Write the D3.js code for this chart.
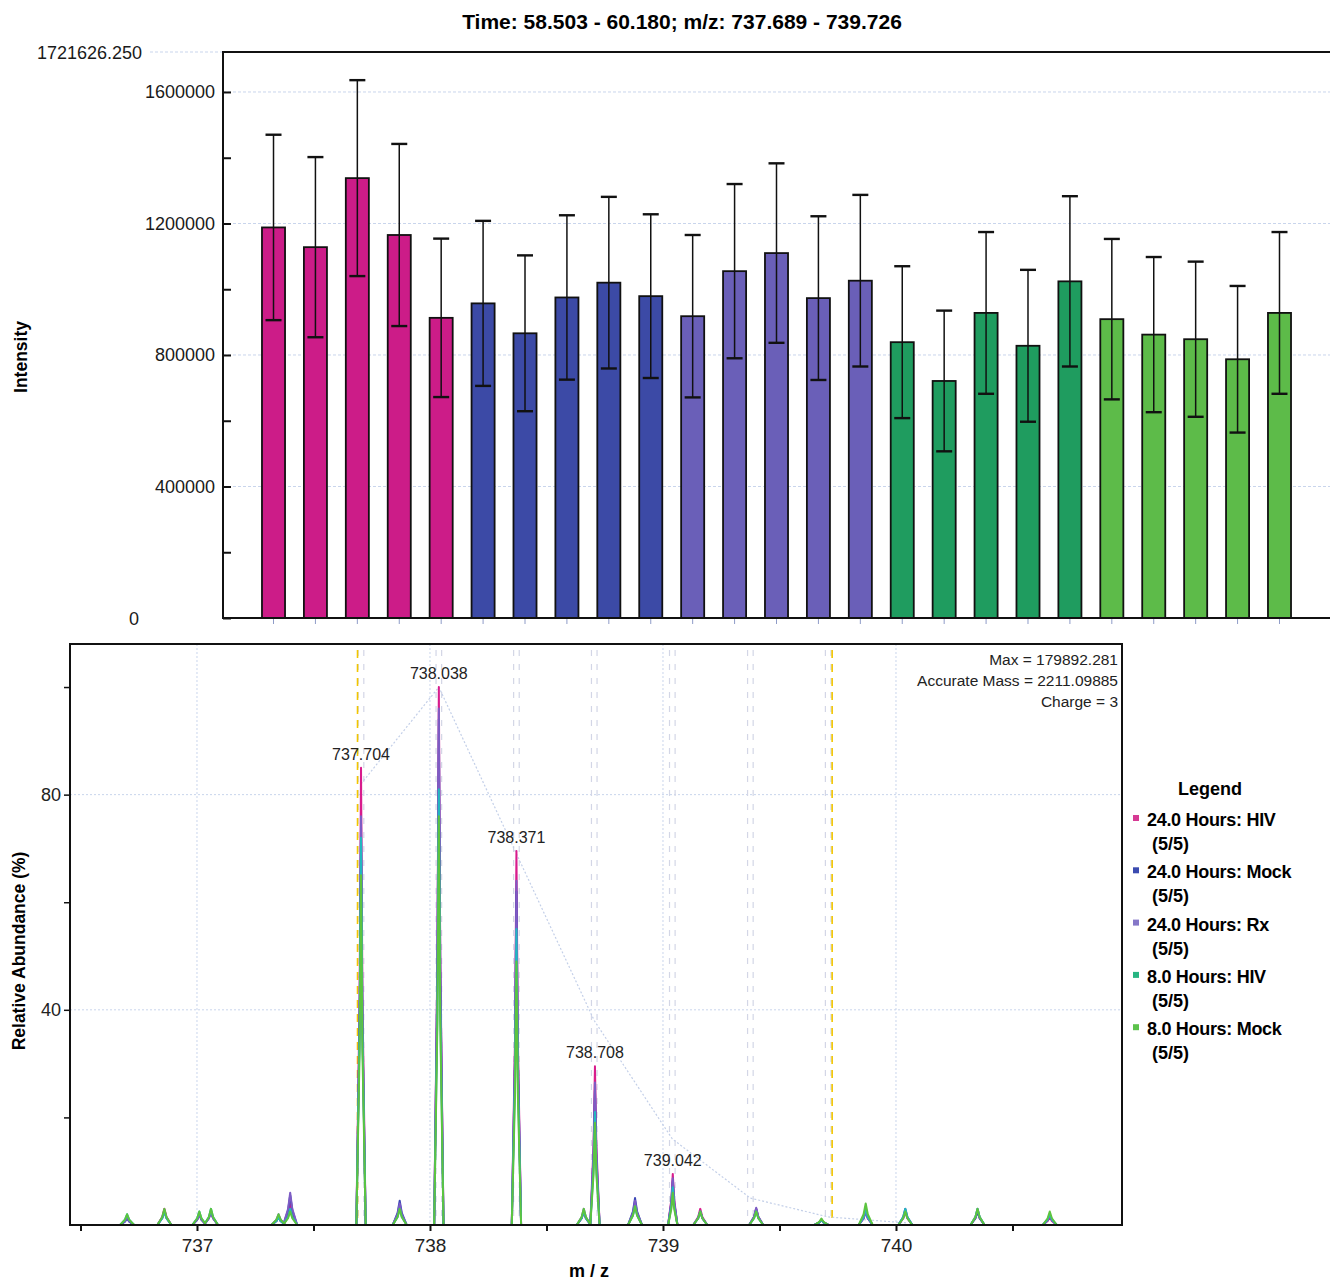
<!DOCTYPE html>
<html>
<head>
<meta charset="utf-8">
<script src="https://cdnjs.cloudflare.com/ajax/libs/d3/7.8.5/d3.min.js"></script>
<style>
  body { margin: 0; background: #fff; }
  svg { display: block; font-family: "Liberation Sans", Arial, sans-serif; }
</style>
</head>
<body>
<svg id="chart" width="1330" height="1281"></svg>
<script>
// ---- data: top bar chart ----
const groups = ["24.0 Hours: HIV", "24.0 Hours: Mock", "24.0 Hours: Rx", "8.0 Hours: HIV", "8.0 Hours: Mock"];
const barColors = ["#cc1c88", "#3c4aa6", "#6a5fb8", "#1f9c5f", "#5dbb49"];
const replicates = 5;
const barMeans = [1188000, 1128000, 1338000, 1165000, 913000,
                  957000, 866000, 975000, 1020000, 979000,
                  918000, 1055000, 1110000, 973000, 1026000,
                  839000, 721000, 928000, 828000, 1024000,
                  909000, 862000, 848000, 787000, 928000];
const barErrors = [282000, 274000, 298000, 277000, 241000,
                   251000, 237000, 250000, 261000, 249000,
                   247000, 265000, 273000, 249000, 261000,
                   231000, 214000, 246000, 231000, 259000,
                   244000, 236000, 236000, 223000, 246000];
const intensityMax = 1721626.25;
const intensityTicks = [0, 200000, 400000, 600000, 800000, 1000000, 1200000, 1400000, 1600000];
const intensityLabels = [0, 400000, 800000, 1200000, 1600000];

// ---- data: bottom spectrum ----
const seriesNames = ["24.0 Hours: HIV", "24.0 Hours: Mock", "24.0 Hours: Rx", "8.0 Hours: HIV", "8.0 Hours: Mock"];
const lineColors = ["#d81b8c", "#3a45b5", "#7d5cc4", "#22b8c0", "#5cc43f"];
const legendColors = ["#d63a94", "#3b4bb0", "#8577c8", "#27b582", "#5cc24c"];
const peakMz = [737.704, 738.038, 738.371, 738.708, 739.042];
const peakHIV24 = [85, 100, 69.5, 29.5, 9.5];
const peakMock24 = [74, 94, 62, 25, 8.2];
const peakRx24 = [76, 96, 64, 26.5, 8.7];
const peakHIV8 = [72, 81, 55, 21, 7];
const peakMock8 = [65, 76, 49, 19, 6];
const noiseMz = [736.70, 736.86, 737.01, 737.06, 737.35, 737.40, 737.87, 738.66, 738.88, 739.16, 739.40, 739.68, 739.87, 740.04, 740.35, 740.66];
const noiseHIV24 = [1.5, 3, 2, 2.5, 1.5, 4, 3.5, 2.5, 4, 3, 3, 1, 2.5, 2.5, 2.5, 1.5];
const noiseMock24 = [1.2, 2.5, 2, 2.5, 1.5, 5.5, 4.5, 2.5, 5, 2.5, 3, 1, 2.5, 3, 2.5, 2];
const noiseRx24 = [1.5, 2.8, 2, 2.5, 2, 6, 4, 3, 4.5, 2.5, 3.2, 1, 2.5, 2.5, 3, 1.8];
const noiseHIV8 = [2, 2.5, 2.5, 3, 1.5, 3, 3, 2.5, 3.5, 2.5, 2.5, 1, 3, 3, 3, 2];
const noiseMock8 = [2, 3, 2.5, 3, 2, 2.5, 3, 3, 3.5, 2.5, 2.5, 1.2, 4, 2.5, 3, 2.5];
const envelopeMz = [737.704, 738.038, 738.371, 738.705, 739.040, 739.375, 739.709, 740.043];
const envelopePct = [82, 100, 69, 38, 16, 5, 1.5, 0.4];
const isotopeWindows = [737.704, 738.038, 738.371, 738.705, 739.040, 739.375, 739.709];
const rangeMarks = [737.689, 739.726];
const mzTicks = [736.5, 737, 737.5, 738, 738.5, 739, 739.5, 740, 740.5];
const mzLabels = [737, 738, 739, 740];
const abundanceTicks = [20, 40, 60, 80, 100];
const abundanceLabels = [40, 80];
const infoLines = ["Max = 179892.281", "Accurate Mass = 2211.09885", "Charge = 3"];
const titleText = "Time: 58.503 - 60.180; m/z: 737.689 - 739.726";

const svg = d3.select("#chart");
const gridColor = "#c9d5ec";

// ================= TOP: bar chart =================
const barBox = { left: 223, right: 1330, top: 52, bottom: 618 };

let bars = barMeans.map((m, i) => ({
  id: i,
  group: groups[Math.floor(i / replicates)],
  color: barColors[Math.floor(i / replicates)],
  mean: m,
  err: barErrors[i]
}));

let x = d3.scaleBand()
  .domain(bars.map(d => d.id))
  .range([barBox.left, barBox.right])
  .paddingInner(0.45)
  .paddingOuter(0.93);

let y = d3.scaleLinear().domain([0, intensityMax]).range([barBox.bottom, barBox.top]);

svg.append("text")
  .attr("x", 682).attr("y", 29)
  .attr("text-anchor", "middle")
  .attr("font-size", 21).attr("font-weight", "bold")
  .text(titleText);

// gridlines
svg.append("g")
  .selectAll("line")
  .data(intensityLabels.filter(d => d > 0))
  .enter().append("line")
  .attr("x1", barBox.left).attr("x2", barBox.right)
  .attr("y1", d => y(d)).attr("y2", d => y(d))
  .attr("stroke", gridColor).attr("stroke-dasharray", "3,2");

svg.append("line")
  .attr("x1", 150).attr("x2", barBox.left)
  .attr("y1", y(intensityMax)).attr("y2", y(intensityMax))
  .attr("stroke", gridColor).attr("stroke-dasharray", "3,2");

// bars
svg.append("g")
  .selectAll("rect")
  .data(bars)
  .enter().append("rect")
  .attr("x", d => x(d.id))
  .attr("y", d => y(d.mean))
  .attr("width", x.bandwidth())
  .attr("height", d => y(0) - y(d.mean))
  .attr("fill", d => d.color)
  .attr("stroke", "#111")
  .attr("stroke-width", 1.8);

// error bars
let err = svg.append("g")
  .selectAll("g")
  .data(bars)
  .enter().append("g")
  .attr("stroke", "#111");

err.append("line")
  .attr("x1", d => x(d.id) + x.bandwidth() / 2)
  .attr("x2", d => x(d.id) + x.bandwidth() / 2)
  .attr("y1", d => y(d.mean + d.err))
  .attr("y2", d => y(d.mean - d.err))
  .attr("stroke-width", 1.5);

err.selectAll(".cap")
  .data(d => [d.mean + d.err, d.mean - d.err].map(v => ({ id: d.id, v: v })))
  .enter().append("line")
  .attr("class", "cap")
  .attr("x1", d => x(d.id) + x.bandwidth() / 2 - 8)
  .attr("x2", d => x(d.id) + x.bandwidth() / 2 + 8)
  .attr("y1", d => y(d.v)).attr("y2", d => y(d.v))
  .attr("stroke-width", 2.4);

// y axis (ticks point inward)
let yAxis = svg.append("g")
  .attr("transform", "translate(" + barBox.left + ",0)")
  .call(d3.axisRight(y).tickValues(intensityTicks).tickSize(8).tickFormat(""));
yAxis.select(".domain").remove();
yAxis.selectAll("line").attr("stroke", "#111").attr("stroke-width", 2);

svg.append("g")
  .selectAll("text")
  .data(intensityLabels)
  .enter().append("text")
  .attr("x", d => d === 0 ? 139 : barBox.left - 8)
  .attr("y", d => y(d) + 6.5)
  .attr("text-anchor", "end")
  .attr("font-size", 18)
  .attr("fill", "#1a1a1a")
  .text(d => d);

svg.append("text")
  .attr("x", 142).attr("y", y(intensityMax) + 6.5)
  .attr("text-anchor", "end").attr("font-size", 18)
  .attr("fill", "#1a1a1a")
  .text(d3.format(".3f")(intensityMax));

// frame lines
svg.append("path")
  .attr("d", "M" + barBox.right + "," + y(intensityMax) + "H" + barBox.left + "V" + y(0) + "H" + barBox.right)
  .attr("fill", "none").attr("stroke", "#111").attr("stroke-width", 2);

// small category ticks under the bars
let xAxis = svg.append("g")
  .attr("transform", "translate(0," + (y(0) + 1) + ")")
  .call(d3.axisBottom(x).tickSize(5).tickFormat(""));
xAxis.select(".domain").remove();
xAxis.selectAll("line").attr("stroke", "#8f9cc8");

svg.append("text")
  .attr("transform", "translate(27,357) rotate(-90)")
  .attr("text-anchor", "middle")
  .attr("font-size", 17.5).attr("font-weight", "bold")
  .text("Intensity");

// ================= BOTTOM: spectrum =================
const specBox = { left: 70, right: 1122, top: 644, bottom: 1225 };
let mx = d3.scaleLinear().domain([736.455, 740.97]).range([specBox.left, specBox.right]);
let my = d3.scaleLinear().domain([0, 108]).range([specBox.bottom, specBox.top]);

// grid
svg.append("g").selectAll("line")
  .data(mzLabels).enter().append("line")
  .attr("x1", d => mx(d)).attr("x2", d => mx(d))
  .attr("y1", specBox.top).attr("y2", specBox.bottom)
  .attr("stroke", gridColor).attr("stroke-dasharray", "2,2");
svg.append("g").selectAll("line")
  .data(abundanceLabels).enter().append("line")
  .attr("x1", specBox.left).attr("x2", specBox.right)
  .attr("y1", d => my(d)).attr("y2", d => my(d))
  .attr("stroke", gridColor).attr("stroke-dasharray", "2,2");

// isotope windows (paired dashed lines)
svg.append("g").selectAll("line")
  .data(isotopeWindows.flatMap(m => [m - 0.012, m + 0.012]))
  .enter().append("line")
  .attr("x1", d => mx(d)).attr("x2", d => mx(d))
  .attr("y1", specBox.top + 6).attr("y2", specBox.bottom)
  .attr("stroke", "#d3d6e6").attr("stroke-width", 1.2)
  .attr("stroke-dasharray", "6,8");

// m/z range marks
svg.append("g").selectAll("line")
  .data(rangeMarks).enter().append("line")
  .attr("x1", d => mx(d)).attr("x2", d => mx(d))
  .attr("y1", specBox.top + 6).attr("y2", specBox.bottom)
  .attr("stroke", "#f2c600").attr("stroke-width", 1.6)
  .attr("stroke-dasharray", "8,6");

// theoretical envelope
svg.append("path")
  .datum(envelopeMz.map((m, i) => [m, envelopePct[i]]))
  .attr("d", d3.line().x(d => mx(d[0])).y(d => my(d[1])))
  .attr("fill", "none").attr("stroke", "#c3cfe8").attr("stroke-width", 1.2)
  .attr("stroke-dasharray", "2,2");

// spectra
let peakSets = [peakHIV24, peakMock24, peakRx24, peakHIV8, peakMock8];
let noiseSets = [noiseHIV24, noiseMock24, noiseRx24, noiseHIV8, noiseMock8];

function profile(i) {
  let pk = peakMz.map((m, j) => ({ mz: m, h: peakSets[i][j], w: 0.02 }))
    .concat(noiseMz.map((m, j) => ({ mz: m, h: noiseSets[i][j], w: 0.03 })))
    .sort((a, b) => a.mz - b.mz);
  let pts = [[736.66, 0]];
  pk.forEach(p => {
    pts.push([p.mz - p.w, 0], [p.mz - p.w * 0.3, p.h * 0.5], [p.mz, p.h],
             [p.mz + p.w * 0.3, p.h * 0.5], [p.mz + p.w, 0]);
  });
  pts.push([740.72, 0]);
  return pts;
}

let specLine = d3.line().x(d => mx(d[0])).y(d => my(d[1]));
svg.append("g")
  .selectAll("path")
  .data(seriesNames.map((s, i) => profile(i)))
  .enter().append("path")
  .attr("d", specLine)
  .attr("fill", "none")
  .attr("stroke", (d, i) => lineColors[i])
  .attr("stroke-width", 2)
  .attr("stroke-linejoin", "round");

// peak labels
svg.append("g")
  .selectAll("text")
  .data(peakMz)
  .enter().append("text")
  .attr("x", d => mx(d))
  .attr("y", (d, i) => my(peakHIV24[i]) - 8)
  .attr("text-anchor", "middle")
  .attr("font-size", 16)
  .attr("fill", "#222")
  .text(d => d3.format(".3f")(d));

// frame
svg.append("rect")
  .attr("x", specBox.left).attr("y", specBox.top)
  .attr("width", specBox.right - specBox.left).attr("height", specBox.bottom - specBox.top)
  .attr("fill", "none").attr("stroke", "#111").attr("stroke-width", 2);

// axes
let ax = svg.append("g")
  .attr("transform", "translate(0," + specBox.bottom + ")")
  .call(d3.axisBottom(mx).tickValues(mzTicks).tickSize(6)
    .tickFormat(d => mzLabels.includes(d) ? d : ""));
ax.select(".domain").remove();
ax.selectAll("line").attr("stroke", "#111").attr("stroke-width", 2);
ax.selectAll("text").attr("font-size", 19).attr("fill", "#222")
  .attr("font-family", "Liberation Sans, Arial, sans-serif").attr("dy", "0.95em");

let ay = svg.append("g")
  .attr("transform", "translate(" + specBox.left + ",0)")
  .call(d3.axisLeft(my).tickValues(abundanceTicks).tickSize(6)
    .tickFormat(d => abundanceLabels.includes(d) ? d : ""));
ay.select(".domain").remove();
ay.selectAll("line").attr("stroke", "#111").attr("stroke-width", 1.5);
ay.selectAll("text").attr("font-size", 18).attr("fill", "#222")
  .attr("font-family", "Liberation Sans, Arial, sans-serif");

svg.append("text")
  .attr("x", 589).attr("y", 1277)
  .attr("text-anchor", "middle")
  .attr("font-size", 18).attr("font-weight", "bold")
  .text("m / z");

svg.append("text")
  .attr("transform", "translate(25,951) rotate(-90)")
  .attr("text-anchor", "middle")
  .attr("font-size", 17.5).attr("font-weight", "bold")
  .text("Relative Abundance (%)");

// info box text
svg.append("g")
  .selectAll("text")
  .data(infoLines)
  .enter().append("text")
  .attr("x", specBox.right - 4)
  .attr("y", (d, i) => specBox.top + 21 + i * 21)
  .attr("text-anchor", "end")
  .attr("font-size", 15.5)
  .attr("fill", "#222")
  .text(d => d);

// legend
let legend = svg.append("g").attr("transform", "translate(1133,795)");
legend.append("text")
  .attr("x", 77).attr("y", 0)
  .attr("text-anchor", "middle")
  .attr("font-size", 18).attr("font-weight", "bold")
  .text("Legend");

let item = legend.selectAll(".item")
  .data(seriesNames)
  .enter().append("g")
  .attr("class", "item")
  .attr("transform", (d, i) => "translate(0," + (31 + i * 52.3) + ")");
item.append("rect")
  .attr("x", 0).attr("y", -11)
  .attr("width", 6).attr("height", 6)
  .attr("fill", (d, i) => legendColors[i]);
item.append("text")
  .attr("x", 14).attr("y", 0)
  .attr("font-size", 18).attr("font-weight", "bold")
  .attr("letter-spacing", "-0.3")
  .text(d => d);
item.append("text")
  .attr("x", 19).attr("y", 24)
  .attr("font-size", 18).attr("font-weight", "bold")
  .text("(5/5)");
</script>
</body>
</html>
